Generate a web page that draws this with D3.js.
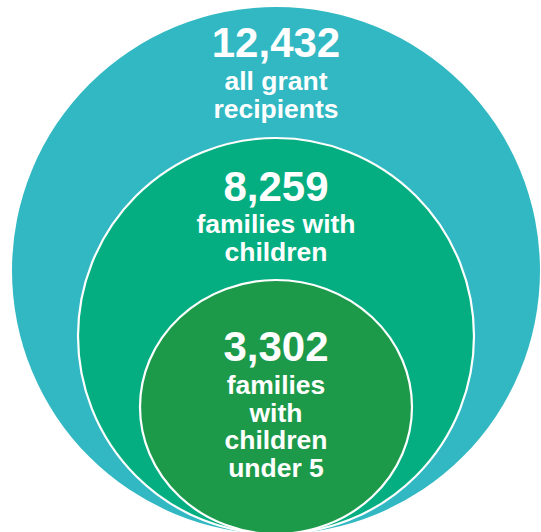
<!DOCTYPE html>
<html>
<head>
<meta charset="utf-8">
<script src="https://cdn.jsdelivr.net/npm/d3@7"></script>
<style>
  body { margin: 0; background: #fff; }
</style>
</head>
<body>
<div id="chart"></div>
<script>
// data
var groups = ["all", "children", "under5"];
var counts = [12432, 8259, 3302];
var labels = [["all grant", "recipients"], ["families with", "children"], ["families", "with", "children", "under 5"]];

var width = 541, height = 532;
var cx = 276, bottom = 534;

var svg = d3.select('#chart').append('svg')
  .attr('width', width)
  .attr('height', height);

// circle sizes per group
var rx = d3.scaleOrdinal().domain(groups).range([264, 198, 136]);
var ry = d3.scaleOrdinal().domain(groups).range([263.5, 198, 127]);
var fill = d3.scaleOrdinal().domain(groups).range(['#31b8c3', '#04ae80', '#1d9a49']);
var stroke = d3.scaleOrdinal().domain(groups).range(['none', '#fff', '#fff']);

var fmt = d3.format(',');

svg.selectAll('ellipse')
  .data(groups)
  .enter().append('ellipse')
    .attr('cx', cx)
    .attr('cy', function(d){ return bottom - ry(d); })
    .attr('rx', rx)
    .attr('ry', ry)
    .attr('fill', fill)
    .attr('stroke', stroke)
    .attr('stroke-width', 2.2);

// text baselines below top of each circle
var numOffset = [50, 63, 81];
var numGap = [33, 32, 33];
var lineH = 27.5;

groups.forEach(function(g, i){
  var top = bottom - 2*ry(g);
  var y0 = top + numOffset[i];
  var t = svg.append('text')
    .attr('text-anchor', 'middle')
    .attr('font-family', 'Liberation Sans, Arial, sans-serif')
    .attr('font-weight', 'bold')
    .attr('fill', '#fff');
  t.append('tspan')
    .attr('x', cx)
    .attr('y', y0)
    .attr('font-size', 42)
    .text(fmt(counts[i]));
  labels[i].forEach(function(l, j){
    t.append('tspan')
      .attr('x', cx)
      .attr('y', y0 + numGap[i] + j*lineH)
      .attr('font-size', 26.5)
      .text(l);
  });
});
</script>
</body>
</html>
